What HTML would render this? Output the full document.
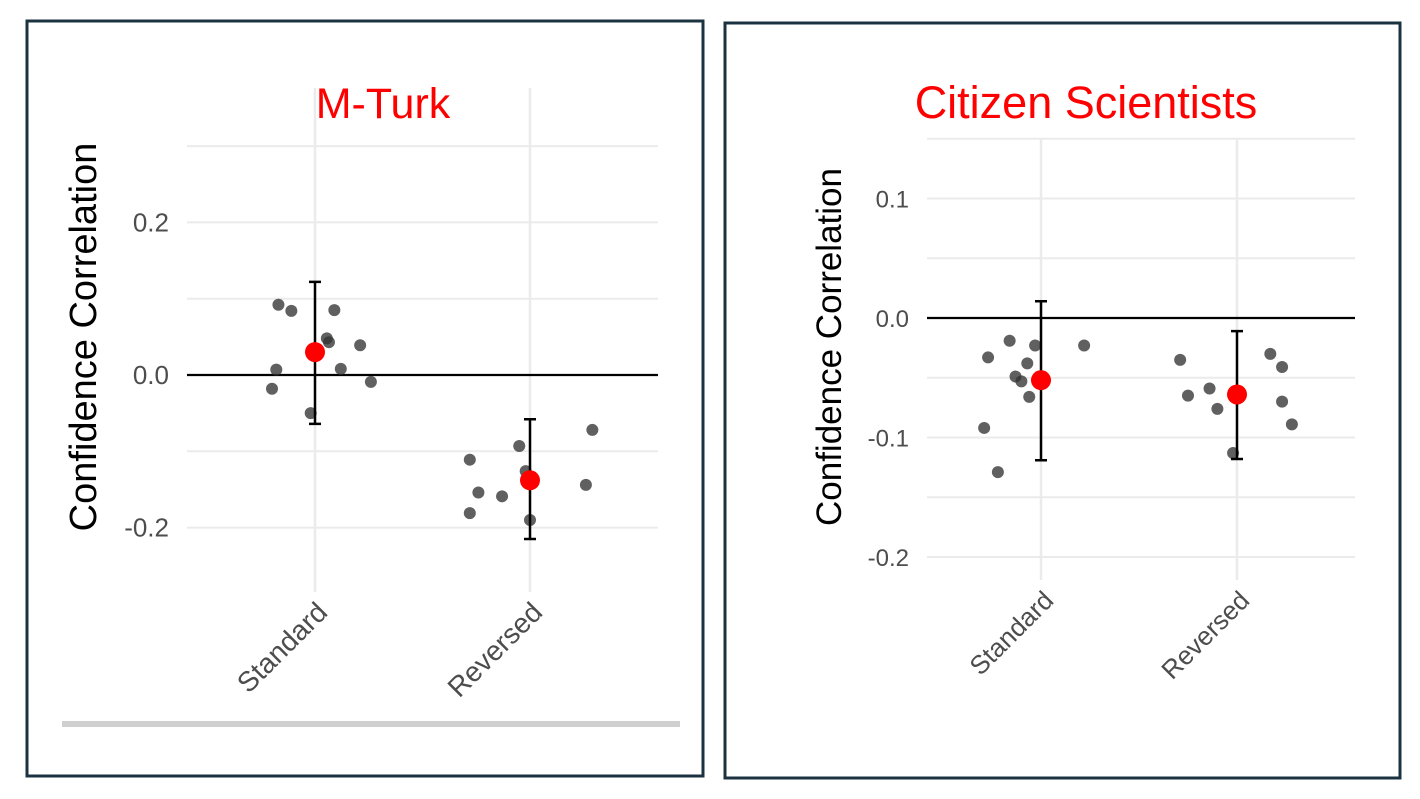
<!DOCTYPE html>
<html><head><meta charset="utf-8"><style>
html,body{margin:0;padding:0;background:#fff;width:1420px;height:799px;overflow:hidden}
svg{position:absolute;left:0;top:0;font-family:"Liberation Sans",sans-serif}
</style></head><body>
<svg id="chart" width="1420" height="799">
<rect x="27" y="21" width="676" height="755" fill="none" stroke="#1b3240" stroke-width="3"/>
<rect x="725" y="23" width="675" height="755" fill="none" stroke="#1b3240" stroke-width="3"/>
<rect x="62" y="721" width="618" height="6" fill="#cfcfcf"/>
</svg>
<script>
const categories = ["Standard","Reversed"];
// M-Turk
const mturkStdVals = [0.092,0.084,0.085,0.043,0.048,0.039,0.008,0.007,-0.009,-0.018,-0.050];
const mturkStdJitter = [-0.17,-0.11,0.09,0.065,0.055,0.21,0.12,-0.18,0.26,-0.2,-0.02];
const mturkRevVals = [-0.111,-0.154,-0.159,-0.181,-0.093,-0.126,-0.190,-0.072,-0.144];
const mturkRevJitter = [-0.28,-0.24,-0.13,-0.28,-0.05,-0.02,0.0,0.29,0.26];
const mturkMeans = [0.030,-0.138];
const mturkLow = [-0.064,-0.215];
const mturkHigh = [0.122,-0.058];
const mturkTicks = [-0.2,0.0,0.2];
const mturkTickLabels = ["-0.2","0.0","0.2"];
const mturkMinor = [-0.1,0.1,0.3];
// Citizen Scientists
const citStdVals = [-0.033,-0.019,-0.023,-0.038,-0.049,-0.053,-0.066,-0.092,-0.129,-0.023];
const citStdJitter = [-0.27,-0.16,-0.03,-0.07,-0.13,-0.10,-0.06,-0.29,-0.22,0.22];
const citRevVals = [-0.035,-0.065,-0.059,-0.076,-0.113,-0.030,-0.041,-0.070,-0.089];
const citRevJitter = [-0.29,-0.25,-0.14,-0.10,-0.02,0.17,0.23,0.23,0.28];
const citMeans = [-0.052,-0.064];
const citLow = [-0.119,-0.118];
const citHigh = [0.014,-0.011];
const citTicks = [-0.2,-0.1,0.0,0.1];
const citTickLabels = ["-0.2","-0.1","0.0","0.1"];
const citMinor = [-0.15,-0.05,0.05,0.15];

const svg = document.getElementById('chart');
const NS = 'http://www.w3.org/2000/svg';
function mk(tag, attrs){const e=document.createElementNS(NS,tag);for(const k in attrs)e.setAttribute(k,attrs[k]);svg.appendChild(e);return e;}

function panel(p){
  const y = v => p.y0 - v*p.k;
  const x = (i,j=0) => p.x0 + (i+j)*p.dx;
  p.minor.concat(p.ticks).forEach(v=>{
    const l=mk('line',{x1:p.left,x2:p.right,y1:y(v),y2:y(v),stroke:'#ebebeb','stroke-width':2});
    
    
  });
  categories.forEach((c,i)=>{
    const l=mk('line',{x1:x(i),x2:x(i),y1:p.top,y2:p.bottom,stroke:'#ebebeb','stroke-width':2.5});
    
    
    const ax=x(i)+14, ay=p.bottom+22;
    const t=mk('text',{x:ax,y:ay,'font-size':p.xfs,fill:'#4d4d4d','text-anchor':'end',transform:`rotate(-45 ${ax} ${ay})`});
    t.textContent=c;
    
    
  });
  p.ticks.forEach((v,i)=>{
    const t=mk('text',{x:p.left-18,y:y(v)+9,'font-size':p.tfs,fill:'#4d4d4d','text-anchor':'end'});
    t.textContent=p.tickLabels[i];
    
    
  });
  const z=mk('line',{x1:p.left,x2:p.right,y1:y(0),y2:y(0),stroke:'#000','stroke-width':2.2});
  
  
  [[p.sv,p.sj,0],[p.rv,p.rj,1]].forEach(([vals,jit,i])=>{
    vals.forEach((v,k)=>{
      const c=mk('circle',{cx:x(i,jit[k]),cy:y(v),r:6,fill:'#333','fill-opacity':0.78});
      
      
    });
  });
  categories.forEach((c,i)=>{
    const g=mk('path',{d:`M${x(i)} ${y(p.high[i])}V${y(p.low[i])}M${x(i)-6} ${y(p.high[i])}H${x(i)+6}M${x(i)-6} ${y(p.low[i])}H${x(i)+6}`,stroke:'#000','stroke-width':2.5,fill:'none'});
    
    
    const m=mk('circle',{cx:x(i),cy:y(p.means[i]),r:10,fill:'#ff0000'});
    
    
  });
  const ti=mk('text',{x:p.titleX,y:118,'font-size':p.titfs,fill:'#ff0000','text-anchor':'middle'});
  ti.textContent=p.title;
  
  
  const yl=mk('text',{x:p.ylX,y:p.ylY,'font-size':p.ylfs,fill:'#000','text-anchor':'middle',transform:`rotate(-90 ${p.ylX} ${p.ylY})`});
  yl.textContent='Confidence Correlation';
  
  
}
panel({id:'mturk',y0:375,k:763,x0:315,dx:215,left:187,right:658,top:88,bottom:592,
  ticks:mturkTicks,tickLabels:mturkTickLabels,minor:mturkMinor,sv:mturkStdVals,sj:mturkStdJitter,rv:mturkRevVals,rj:mturkRevJitter,
  means:mturkMeans,low:mturkLow,high:mturkHigh,title:'M-Turk',titleX:383,ylX:96,ylY:337,
  xfs:28,tfs:26,titfs:43,ylfs:38});
panel({id:'citizen',y0:318,k:1195,x0:1041,dx:196,left:927,right:1355,top:138,bottom:580,
  ticks:citTicks,tickLabels:citTickLabels,minor:citMinor,sv:citStdVals,sj:citStdJitter,rv:citRevVals,rj:citRevJitter,
  means:citMeans,low:citLow,high:citHigh,title:'Citizen Scientists',titleX:1086,ylX:841,ylY:347,
  xfs:26,tfs:24,titfs:45,ylfs:35});
</script>
</body></html>
